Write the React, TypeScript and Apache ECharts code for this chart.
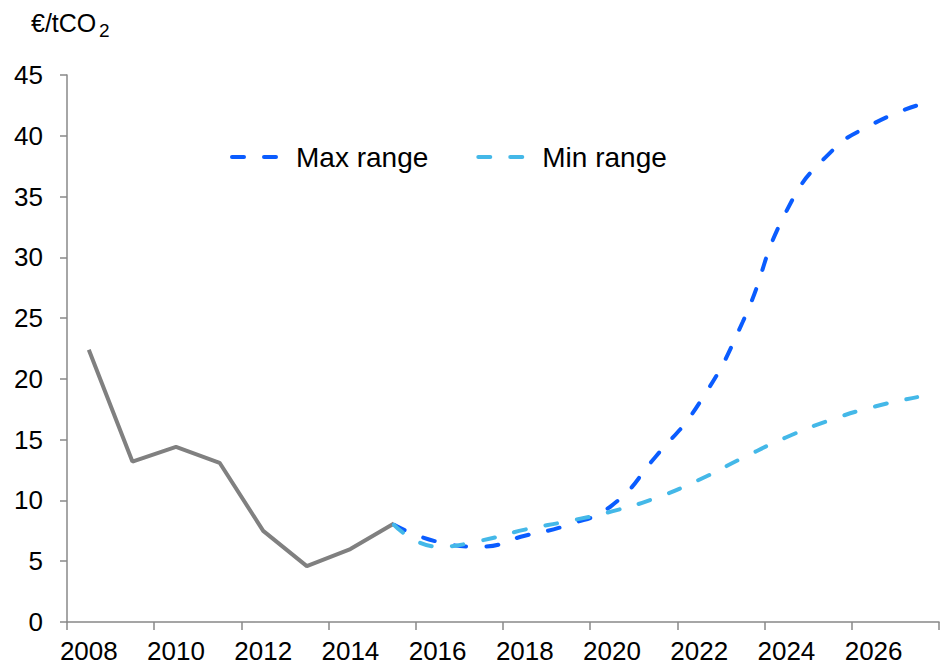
import React, { useEffect, useRef } from "react";
import * as echarts from "echarts";

const years = ["2008","2009","2010","2011","2012","2013","2014","2015","2016","2017","2018","2019","2020","2021","2022","2023","2024","2025","2026","2027"];
const historical = [22.4, 13.2, 14.4, 13.1, 7.5, 4.6, 6.0, 8.1, null, null, null, null, null, null, null, null, null, null, null, null];
const maxRange = [null, null, null, null, null, null, null, 8.0, 6.6, 6.2, 7.1, 8.0, 9.6, 13.6, 18.0, 24.7, 33.8, 38.6, 41.0, 42.5];
const minRange = [null, null, null, null, null, null, null, 8.0, 6.2, 6.7, 7.6, 8.3, 9.1, 10.2, 11.7, 13.5, 15.2, 16.6, 17.7, 18.5];

const FONT = "'Liberation Sans', Arial, sans-serif";

export default function App() {
  const ref = useRef<HTMLDivElement>(null);
  useEffect(() => {
    if (!ref.current) return;
    const chart = echarts.init(ref.current, null, { renderer: "svg" });
    chart.setOption({
      animation: false,
      backgroundColor: "#ffffff",
      textStyle: { fontFamily: FONT },
      graphic: [
        { type: "text", left: 31, top: 10, style: { text: "€/tCO", fontSize: 25, fontFamily: FONT, fill: "#000" } },
        { type: "text", left: 99, top: 21, style: { text: "2", fontSize: 19, fontFamily: FONT, fill: "#000" } },
      ],
      legend: {
        left: 225,
        top: 138,
        itemWidth: 52,
        itemHeight: 14,
        itemGap: 48,
        data: ["Max range", "Min range"],
        lineStyle: { width: 4 },
        itemStyle: { opacity: 0 },
        textStyle: { fontSize: 28, fontFamily: FONT, color: "#000", padding: [0, 0, 0, 7] },
      },
      grid: { left: 67, right: 7, top: 75, bottom: 47, containLabel: false },
      xAxis: {
        type: "category",
        data: years,
        boundaryGap: true,
        axisLine: { lineStyle: { color: "#888888", width: 1.5 } },
        axisTick: { show: true, interval: 1, length: 8, lineStyle: { color: "#888888", width: 1.5 } },
        axisLabel: { interval: 1, fontSize: 26, color: "#000", margin: 16, fontFamily: FONT },
        splitLine: { show: false },
      },
      yAxis: {
        type: "value",
        min: 0,
        max: 45,
        interval: 5,
        axisLine: { show: true, lineStyle: { color: "#888888", width: 1.5 } },
        axisTick: { show: true, length: 7, lineStyle: { color: "#888888", width: 1.5 } },
        axisLabel: { fontSize: 26, color: "#000", margin: 24, fontFamily: FONT },
        splitLine: { show: false },
      },
      series: [
        {
          name: "Historical",
          type: "line",
          data: historical,
          symbol: "none",
          lineStyle: { color: "#808080", width: 4 },
          itemStyle: { color: "#808080" },
        },
        {
          name: "Max range",
          type: "line",
          data: maxRange,
          smooth: true,
          symbol: "none",
          lineStyle: { color: "#0A5CFF", width: 4, type: [12, 20], cap: "round" },
          itemStyle: { color: "#0A5CFF" },
        },
        {
          name: "Min range",
          type: "line",
          data: minRange,
          smooth: true,
          symbol: "none",
          lineStyle: { color: "#44B8E8", width: 4, type: [12, 20], cap: "round" },
          itemStyle: { color: "#44B8E8" },
        },
      ],
    });
    return () => chart.dispose();
  }, []);
  return <div ref={ref} style={{ position: "absolute", left: 0, top: 0, width: 946, height: 669 }} />;
}
